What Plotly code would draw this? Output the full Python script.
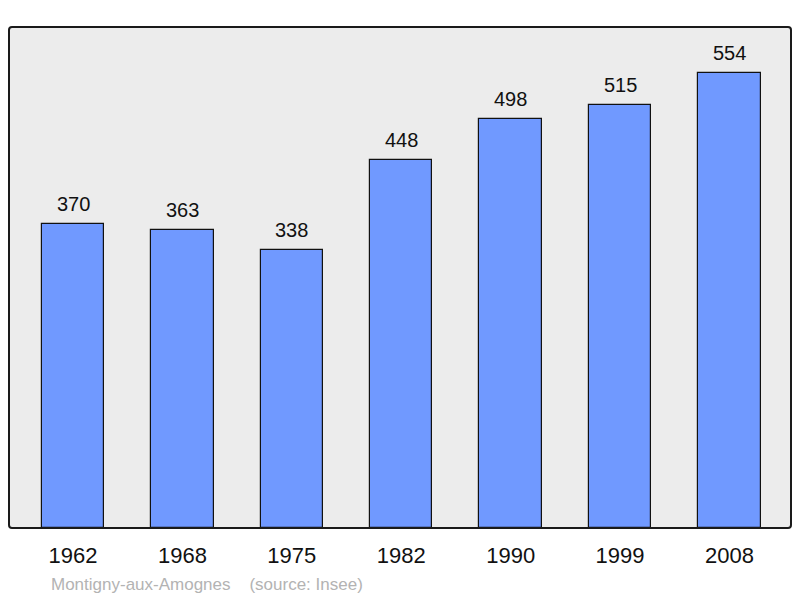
import plotly.graph_objects as go

years = ["1962", "1968", "1975", "1982", "1990", "1999", "2008"]
population = [370, 363, 338, 448, 498, 515, 554]
commune = "Montigny-aux-Amognes"
source = "(source: Insee)"

W, H = 800, 598
ml, mr, mt, mb = 9, 9, 27, 70
pw, ph = W - ml - mr, H - mt - mb

fig = go.Figure()
fig.add_trace(go.Bar(
    x=list(range(len(years))), y=population,
    width=0.57,
    marker=dict(color="#7099ff", line=dict(color="#111111", width=1.2)),
    hoverinfo="skip",
))

for i, v in enumerate(population):
    fig.add_annotation(x=i, y=v, text=str(v), showarrow=False,
                       yanchor="bottom", yshift=7,
                       font=dict(family="Liberation Sans, Arial", size=20, color="#111111"))

fig.add_annotation(xref="paper", yref="paper", x=40 / pw, y=-56 / ph, xanchor="left", yanchor="middle",
                   text=commune + "&nbsp;&nbsp;&nbsp;&nbsp;" + source, showarrow=False,
                   font=dict(family="Liberation Sans, Arial", size=17, color="#b3b3b3"))

# rounded border
rx, ry = 3 / pw, 3 / ph
path = (f"M {rx},0 L {1-rx},0 Q 1,0 1,{ry} L 1,{1-ry} Q 1,1 {1-rx},1 "
        f"L {rx},1 Q 0,1 0,{1-ry} L 0,{ry} Q 0,0 {rx},0 Z")
fig.add_shape(type="path", xref="paper", yref="paper", path=path,
              line=dict(color="#1a1a1a", width=2), layer="above")

fig.update_layout(
    width=W, height=H,
    margin=dict(l=ml, r=mr, t=mt, b=mb),
    paper_bgcolor="white", plot_bgcolor="#ececec",
    showlegend=False,
    bargap=0,
    xaxis=dict(range=[-0.585, 6.562], tickmode="array", tickvals=list(range(len(years))),
               ticktext=years, showgrid=False, zeroline=False, showline=False,
               ticks="", ticklabelstandoff=12,
               tickfont=dict(family="Liberation Sans, Arial", size=22, color="#111111")),
    yaxis=dict(range=[0, 610], showgrid=False, zeroline=False, showticklabels=False,
               showline=False, ticks=""),
)

fig.write_html("out.html", config={"displayModeBar": False},
               post_script="document.body.style.margin='0';document.body.style.overflow='hidden';")
